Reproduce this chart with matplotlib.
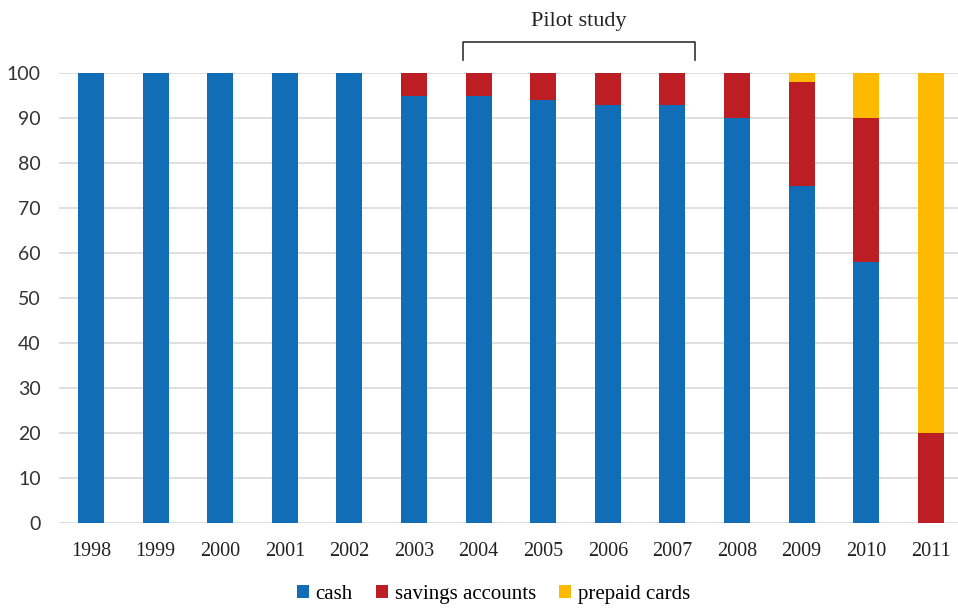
import numpy as np
import matplotlib.pyplot as plt

# share of payments by method, per year (percent)
years = ['1998', '1999', '2000', '2001', '2002', '2003', '2004',
         '2005', '2006', '2007', '2008', '2009', '2010', '2011']
cash = [100, 100, 100, 100, 100, 95, 95, 94, 93, 93, 90, 75, 58, 0]
savings = [0, 0, 0, 0, 0, 5, 5, 6, 7, 7, 10, 23, 32, 20]
prepaid = [0, 0, 0, 0, 0, 0, 0, 0, 0, 0, 0, 2, 10, 80]

blue = '#116DB6'
red = '#BD1E24'
yellow = '#FDBA00'
serif = ['Liberation Serif', 'DejaVu Serif']

fig = plt.figure(figsize=(9.58, 6.09), dpi=100)
ax = fig.add_axes([0.0613, 0.1412, 0.944, 0.7389])

x = np.arange(len(years))
cash = np.array(cash)
savings = np.array(savings)
prepaid = np.array(prepaid)
w = 0.4
ax.bar(x, cash, w, color=blue, label='cash', zorder=3)
ax.bar(x, savings, w, bottom=cash, color=red, label='savings accounts', zorder=3)
ax.bar(x, prepaid, w, bottom=cash + savings, color=yellow, label='prepaid cards', zorder=3)

ax.set_xlim(-0.5, len(years) - 0.5)
ax.set_ylim(0, 100)
ax.set_yticks(range(0, 101, 10))
ax.yaxis.grid(True, color='#D9D9D9', linewidth=1.2, zorder=0)
for s in ax.spines.values():
    s.set_visible(False)
ax.tick_params(length=0)
ax.tick_params(axis='y', pad=13)
ax.tick_params(axis='x', pad=14)
ax.set_xticks(x)
ax.set_xticklabels(years, fontfamily=serif, fontsize=14.5, color='#222222')
for lab in ax.get_yticklabels():
    lab.set_fontfamily(['Lato', 'DejaVu Sans'])
    lab.set_fontsize(14)
    lab.set_color('#333333')

# bracket over the pilot years
bx0, bx1 = 5.76, 9.35
ax.plot([bx0, bx0, bx1, bx1], [103, 107, 107, 103], color='#333333',
        linewidth=1.2, clip_on=False)
ax.text((bx0 + bx1) / 2, 109.3, 'Pilot study', ha='center', va='bottom',
        fontfamily=serif, fontsize=16, color='#222222')

leg = fig.legend(loc='lower center', bbox_to_anchor=(0.515, -0.022), ncol=3,
                 frameon=False, prop={'family': serif, 'size': 15},
                 handlelength=0.6, handleheight=0.6, handletextpad=0.3,
                 columnspacing=1.1)

fig.savefig('out.png', dpi=100)
